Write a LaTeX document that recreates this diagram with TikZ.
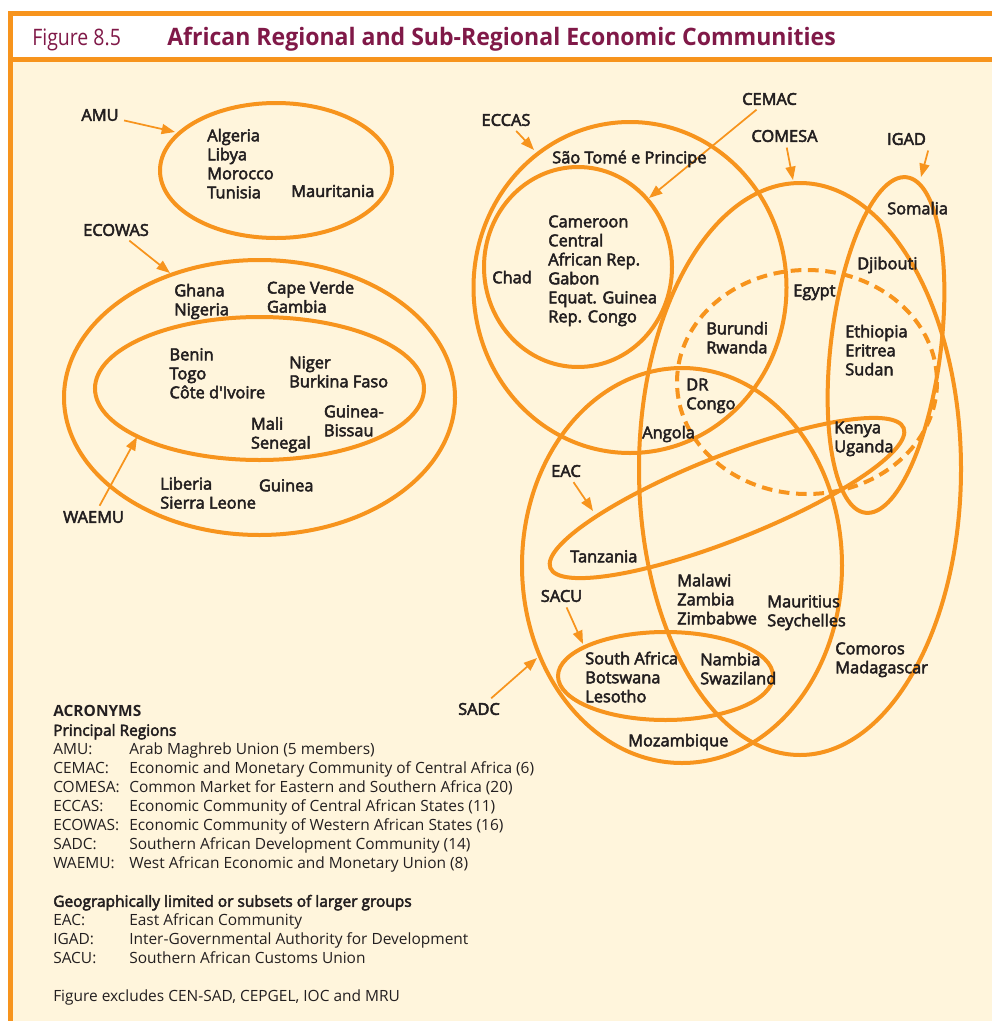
\documentclass[tikz,border=0pt]{standalone}
\usepackage{fontspec}
\setmainfont{Open Sans}
\newfontfamily\lblbase{Open Sans}
\newcommand{\lblfont}{\lblbase\addfontfeatures{FakeBold=3}}
\newfontfamily\ttlfont[FakeStretch=0.86]{Open Sans}
\newfontfamily\ttlbfont[FakeStretch=0.96]{Open Sans}
\usetikzlibrary{arrows.meta}
\definecolor{orng}{RGB}{247,148,29}
\definecolor{cream}{RGB}{255,245,220}
\definecolor{maroon}{RGB}{128,25,72}
\definecolor{ink}{RGB}{35,31,32}
\newcommand{\lstrut}{\rule{0pt}{12pt}}

\begin{document}
\begin{tikzpicture}[x=0.75pt,y=0.75pt,yscale=-1,xscale=1,
  ring/.style={draw=orng, line width=3pt},
  ptr/.style={draw=orng, line width=1.3pt, -{Triangle[length=10pt,width=7.5pt]}, shorten <=2pt},
  grp/.style={inner sep=2pt, text=ink, font=\fontsize{12.3}{14.25}\lblfont\selectfont},
  ctry/.style={anchor=north west, inner sep=0pt, align=left, text=ink, font=\fontsize{12.3}{14.25}\lblfont\selectfont}]
%uncomment if require: \path (0,1021); %set diagram left start at 0, and has height of 1021
\useasboundingbox (0,0) rectangle (992,1021);

%Frame
\fill[white] (0,0) rectangle (992,1021);
\fill[cream] (13,62) rectangle (992,1021);
\fill[orng] (8,11) rectangle (13,1021);
\fill[orng] (8,11) rectangle (992,16);
\fill[orng] (8,57) rectangle (992,62);

% Title
\node[anchor=base west, inner sep=0pt, text=maroon, font=\ttlfont\fontsize{17}{20}\selectfont] (fignum) at (32,45) {Figure 8.5};
\node[anchor=base west, inner sep=0pt, text=maroon, font=\ttlbfont\bfseries\fontsize{18}{21}\selectfont] (title) at (167,45) {African Regional and Sub-Regional Economic Communities};

%Shape: Ellipse AMU
\draw[ring] (276,170.5) ellipse [x radius=116, y radius=67.5];
%Shape: Ellipse ECOWAS
\draw[ring] (259.5,397.5) ellipse [x radius=195.5, y radius=137.5];
%Shape: Ellipse WAEMU
\draw[ring] (259.5,388.5) ellipse [x radius=164.5, y radius=71.5];
%Shape: Ellipse ECCAS
\draw[ring] (630,287.5) ellipse [x radius=156.5, y radius=165.5];
%Shape: Ellipse CEMAC
\draw[ring] (578,267) ellipse [x radius=94, y radius=100];
%Shape: Ellipse COMESA
\draw[ring] (800,469) ellipse [x radius=161, y radius=286];
%Shape: Ellipse dashed
\draw[ring, dash pattern=on 8pt off 5pt] (807,382) ellipse [x radius=130, y radius=112];
%Shape: Ellipse IGAD
\draw[ring, rotate around={7:(886,345)}] (886,345) ellipse [x radius=55, y radius=169];
%Shape: Ellipse SADC
\draw[ring] (682,565.5) ellipse [x radius=160, y radius=197.5];
%Shape: Ellipse EAC
\draw[ring, rotate around={-21.6:(727,498)}] (727,498) ellipse [x radius=190, y radius=42];
%Shape: Ellipse SACU
\draw[ring] (665.5,676) ellipse [x radius=107.5, y radius=44];

% Group labels
\node[grp] (amu) at (100,115) {AMU};
\node[grp] (ecowas) at (116,230) {ECOWAS};
\node[grp] (waemu) at (93.5,517) {WAEMU};
\node[grp] (eccas) at (506,120) {ECCAS};
\node[grp] (cemac) at (769.5,99) {CEMAC};
\node[grp] (comesa) at (784.5,136) {COMESA};
\node[grp] (igad) at (906.5,139) {IGAD};
\node[grp] (eac) at (566,471) {EAC};
\node[grp] (sacu) at (561.5,596) {SACU};
\node[grp] (sadc) at (479,709) {SADC};

% Arrow tips
\coordinate (amuT) at (175,132);
\coordinate (ecowasT) at (170,273);
\coordinate (waemuT) at (137,437);
\coordinate (eccasT) at (534,150);
\coordinate (cemacT) at (649,198);
\coordinate (comesaT) at (793,180);
\coordinate (igadT) at (921,177);
\coordinate (eacT) at (593,511);
\coordinate (sacuT) at (583,644);
\coordinate (sadcT) at (537,658);

%Straight Lines
\draw[ptr] (amu) -- (amuT);
\draw[ptr] (ecowas) -- (ecowasT);
\draw[ptr] (waemu) -- (waemuT);
\draw[ptr] (eccas) -- (eccasT);
\draw[ptr] (cemac) -- (cemacT);
\draw[ptr] (comesa) -- (comesaT);
\draw[ptr] (igad.south east) -- (igadT);
\draw[ptr] (eac) -- (eacT);
\draw[ptr] (sacu) -- (sacuT);
\draw[ptr] (sadc) -- (sadcT);

% Text Node -- west
\node[ctry] (tAlg) at (207,125) {\lstrut Algeria\\Libya\\Morocco\\Tunisia};
\node[ctry] (tMau) at (291,180.7) {\lstrut Mauritania};
\node[ctry] (tGha) at (174,280) {\lstrut Ghana\\Nigeria};
\node[ctry] (tCap) at (266.7,277.3) {\lstrut Cape Verde\\Gambia};
\node[ctry] (tBen) at (169.3,344) {\lstrut Benin\\Togo\\Côte d\textquotesingle Ivoire};
\node[ctry] (tNig) at (289,352) {\lstrut Niger\\Burkina Faso};
\node[ctry] (tMal) at (250.7,413.3) {\lstrut Mali\\Senegal};
\node[ctry] (tGuB) at (323.7,401) {\lstrut Guinea-\\Bissau};
\node[ctry] (tLib) at (160,473.3) {\lstrut Liberia\\Sierra Leone};
\node[ctry] (tGui) at (258.7,475) {\lstrut Guinea};

% Text Node -- east
\node[ctry] (tSao) at (552,147) {\lstrut São Tomé e Principe};
\node[ctry] (tChad) at (492,267) {\lstrut Chad};
\node[ctry] (tCam) at (548,211) {\lstrut Cameroon\\Central\\African Rep.\\Gabon\\Equat. Guinea\\Rep. Congo};
\node[ctry] (tEgy) at (793,280) {\lstrut Egypt};
\node[ctry] (tSom) at (887,198) {\lstrut Somalia};
\node[ctry] (tDji) at (857,253) {\lstrut Djibouti};
\node[ctry] (tBur) at (706,318) {\lstrut Burundi\\Rwanda};
\node[ctry] (tEth) at (845,321) {\lstrut Ethiopia\\Eritrea\\Sudan};
\node[ctry] (tDRC) at (686,374) {\lstrut DR\\Congo};
\node[ctry] (tAng) at (642,422) {\lstrut Angola};
\node[ctry] (tKen) at (834,417) {\lstrut Kenya\\Uganda};
\node[ctry] (tTan) at (570,546) {\lstrut Tanzania};
\node[ctry] (tMlw) at (677,570) {\lstrut Malawi\\Zambia\\Zimbabwe};
\node[ctry] (tMrt) at (767,591) {\lstrut Mauritius\\Seychelles};
\node[ctry] (tCom) at (835,638) {\lstrut Comoros\\Madagascar};
\node[ctry] (tSAf) at (585,648) {\lstrut South Africa\\Botswana\\Lesotho};
\node[ctry] (tNam) at (700,649) {\lstrut Nambia\\Swaziland};
\node[ctry] (tMoz) at (628,730) {\lstrut Mozambique};

% Acronyms
\node[anchor=north west, inner sep=0pt, text=ink, font=\fontsize{11.6}{14.25}\selectfont] (legend) at (53,703.2) {%
\begin{tabular}{@{}p{57pt}@{}l@{}}
\multicolumn{2}{@{}l@{}}{\bfseries ACRONYMS}\\
\multicolumn{2}{@{}l@{}}{\lblfont Principal Regions}\\
AMU: & Arab Maghreb Union (5 members)\\
CEMAC: & Economic and Monetary Community of Central Africa (6)\\
COMESA: & Common Market for Eastern and Southern Africa (20)\\
ECCAS: & Economic Community of Central African States (11)\\
ECOWAS: & Economic Community of Western African States (16)\\
SADC: & Southern African Development Community (14)\\
WAEMU: & West African Economic and Monetary Union (8)\\
 & \\
\multicolumn{2}{@{}l@{}}{\lblfont Geographically limited or subsets of larger groups}\\
EAC: & East African Community\\
IGAD: & Inter-Governmental Authority for Development\\
SACU: & Southern African Customs Union\\
 & \\
\multicolumn{2}{@{}l@{}}{Figure excludes CEN-SAD, CEPGEL, IOC and MRU}
\end{tabular}};

\end{tikzpicture}
\end{document}
